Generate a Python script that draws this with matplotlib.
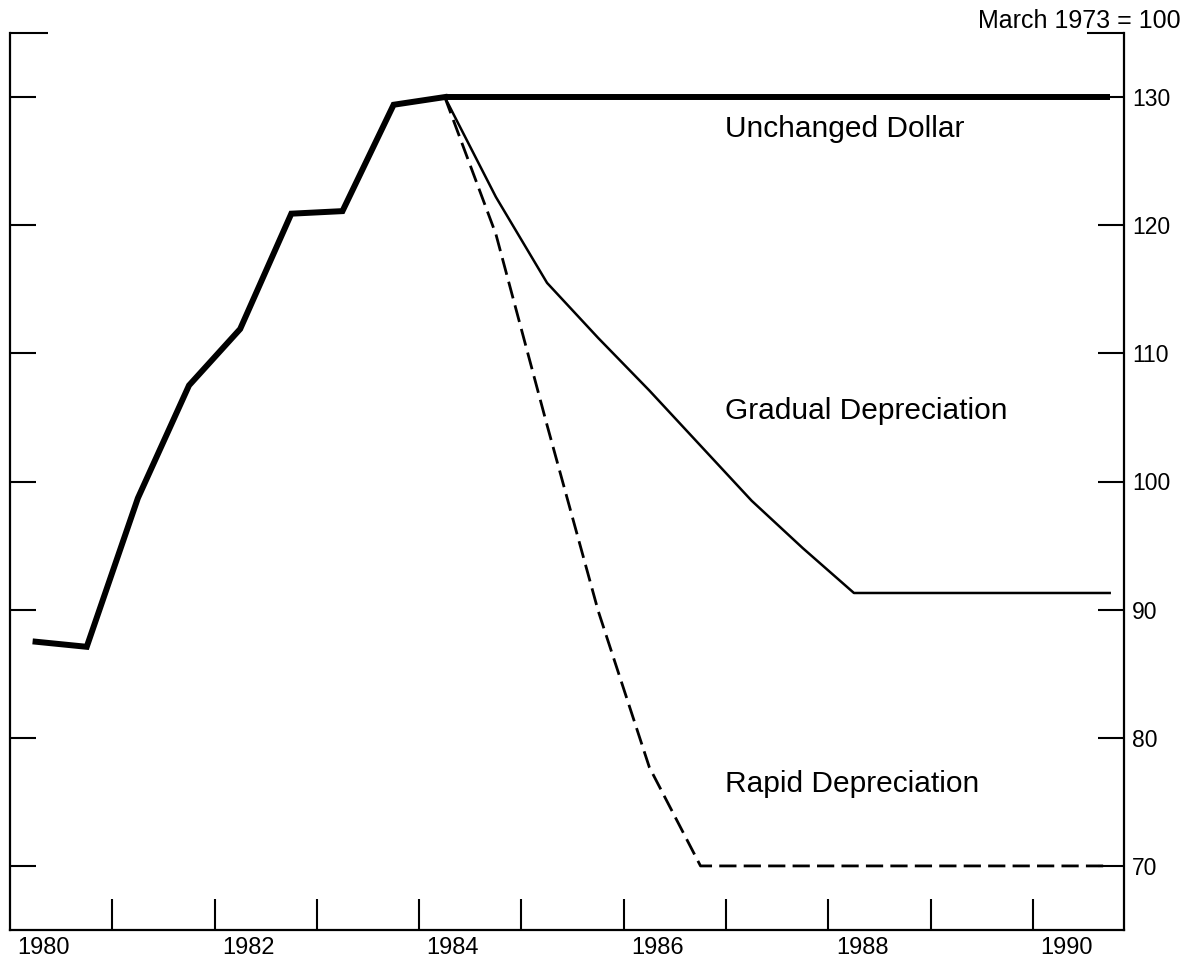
import matplotlib.pyplot as plt
from matplotlib.ticker import FixedLocator

plt.rcParams['font.family'] = ['Liberation Sans', 'DejaVu Sans']

# historical index, half-year points
hist_x = [1980.25, 1980.75, 1981.25, 1981.75, 1982.25, 1982.75, 1983.25, 1983.75, 1984.25]
hist_y = [87.5, 87.1, 98.7, 107.5, 111.9, 120.9, 121.1, 129.4, 130.0]

# projections from the 1984 peak
proj_x = [1984.25, 1984.75, 1985.25, 1985.75, 1986.25, 1986.75, 1987.25,
          1987.75, 1988.25, 1988.75, 1989.25, 1989.75, 1990.25, 1990.75]
unchanged = [130.0, 130.0, 130.0, 130.0, 130.0, 130.0, 130.0,
             130.0, 130.0, 130.0, 130.0, 130.0, 130.0, 130.0]
gradual = [130.0, 122.2, 115.5, 111.2, 107.1, 102.8, 98.5,
           94.8, 91.3, 91.3, 91.3, 91.3, 91.3, 91.3]
rapid = [130.0, 119.3, 104.4, 89.9, 77.7, 70.0, 70.0,
         70.0, 70.0, 70.0, 70.0, 70.0, 70.0, 70.0]

year_labels = [1980, 1982, 1984, 1986, 1988, 1990]
year_ticks = [1981, 1982, 1983, 1984, 1985, 1986, 1987, 1988, 1989, 1990]
y_ticks = [70, 80, 90, 100, 110, 120, 130]

series_labels = ["Unchanged Dollar", "Gradual Depreciation", "Rapid Depreciation"]
label_y = [127.5, 105.5, 76.4]

fig = plt.figure(figsize=(11.87, 9.6), dpi=100)
ax = fig.add_axes([10 / 1187, 30 / 960, 1114 / 1187, 897 / 960])

ax.plot(hist_x, hist_y, color='black', lw=4.3, solid_joinstyle='miter')
ax.plot(proj_x, unchanged, color='black', lw=4.3, solid_capstyle='butt')
ax.plot(proj_x, gradual, color='black', lw=1.8)
ax.plot(proj_x, rapid, color='black', lw=2.0, linestyle=(0, (6.2, 2.6)))

for txt, yy in zip(series_labels, label_y):
    ax.text(1986.99, yy, txt, fontsize=21.5, ha='left', va='center')

ax.set_xlim(1980.0, 1990.89)
ax.set_ylim(65, 135)

# x axis: labels between ticks, ticks at year marks pointing up
ax.set_xticks([y + 0.33 for y in year_labels])
ax.set_xticklabels([str(y) for y in year_labels], fontsize=17)
ax.xaxis.set_minor_locator(FixedLocator(year_ticks))
ax.tick_params(axis='x', which='major', length=0, pad=5)
ax.tick_params(axis='x', which='minor', direction='in', length=22, width=1.5)

# y axis: ticks on both sides, labels on the right
ax.set_yticks(y_ticks)
ax.yaxis.set_minor_locator(FixedLocator([135]))
ax.tick_params(axis='y', which='both', left=True, right=True,
               labelleft=False, labelright=True, direction='in')
ax.tick_params(axis='y', which='major', length=19, width=1.5, labelsize=16.5, pad=6)
ax.tick_params(axis='y', which='minor', length=27, width=1.5)

ax.spines['top'].set_visible(False)
for side in ['left', 'right', 'bottom']:
    ax.spines[side].set_linewidth(1.6)

fig.text(1181 / 1187, 1 - 21 / 960, "March 1973 = 100", fontsize=18,
         ha='right', va='center')

fig.savefig("out.png", dpi=100)
